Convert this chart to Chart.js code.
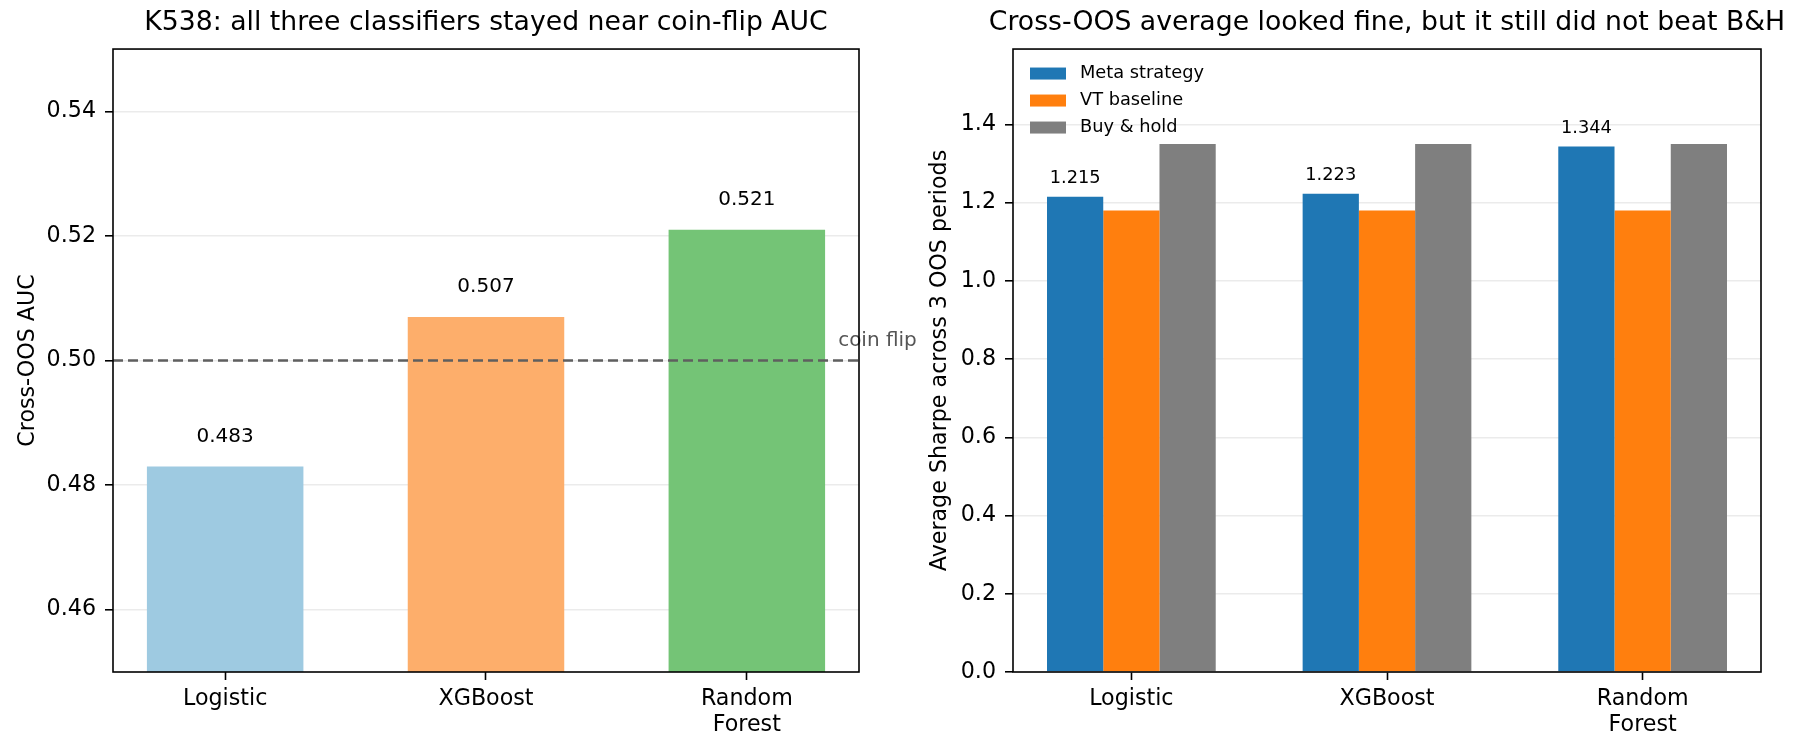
<!DOCTYPE html>
<html>
<head>
<meta charset="utf-8">
<script src="https://cdn.jsdelivr.net/npm/chart.js@4.4.1/dist/chart.umd.min.js"></script>
<style>
  html, body { margin: 0; padding: 0; background: #fff; overflow: hidden; width: 1801px; height: 754px; }
  .panel { position: absolute; top: 0; }
</style>
</head>
<body>
<div class="panel" style="left:0"><canvas id="aucChart" width="972" height="754"></canvas></div>
<div class="panel" style="left:900px"><canvas id="sharpeChart" width="974" height="754"></canvas></div>
<script>
// data
const models = ['Logistic', 'XGBoost', 'Random Forest'];
const aucValues = [0.483, 0.507, 0.521];
const aucColors = ['#9ecae1', '#fdae6b', '#74c476'];
const aucTicks = [0.46, 0.48, 0.50, 0.52, 0.54];
const coinFlip = 0.5;

const metaSharpe = [1.215, 1.223, 1.344];
const vtSharpe = [1.18, 1.18, 1.18];
const bhSharpe = [1.35, 1.35, 1.35];
const sharpeTicks = [0.0, 0.2, 0.4, 0.6, 0.8, 1.0, 1.2, 1.4];

const FONT = 'DejaVu Sans';
const pts = arr => arr.map((v, i) => ({x: i, y: v}));

// black box around the plot like matplotlib spines
const frame = {
  id: 'frame',
  afterDatasetsDraw(chart) {
    const {ctx, chartArea: a} = chart;
    ctx.save();
    ctx.strokeStyle = '#000';
    ctx.lineWidth = 1.6;
    ctx.strokeRect(a.left, a.top, a.right - a.left, a.bottom - a.top);
    ctx.restore();
  }
};

const barLabels = {
  id: 'barLabels',
  afterDatasetsDraw(chart, args, opts) {
    if (!opts.datasets) return;
    const ctx = chart.ctx;
    ctx.save();
    ctx.font = opts.size + 'px "' + FONT + '"';
    ctx.fillStyle = '#000';
    ctx.textAlign = 'center';
    ctx.textBaseline = 'middle';
    opts.datasets.forEach(i => {
      const ds = chart.data.datasets[i];
      chart.getDatasetMeta(i).data.forEach((bar, j) => {
        ctx.fillText(ds.data[j].y.toFixed(3), bar.x, bar.y - opts.offset);
      });
    });
    ctx.restore();
  }
};

function xScale(min, max) {
  return {
    type: 'linear',
    min: min,
    max: max,
    offset: false,
    afterBuildTicks: s => { s.ticks = models.map((m, i) => ({value: i})); },
    afterFit: s => { s.height = 82; },
    grid: { offset: false, drawOnChartArea: false, tickColor: '#000', tickWidth: 1.6, tickLength: 8 },
    border: { display: false },
    ticks: {
      color: '#000', padding: 6, maxRotation: 0, autoSkip: false,
      font: { family: FONT, size: 22.2, lineHeight: 1.19 },
      callback: v => models[v].split(' ')
    }
  };
}

function yScale(min, max, tickVals, digits, label, titlePad) {
  return {
    min: min,
    max: max,
    afterBuildTicks: s => { s.ticks = tickVals.map(v => ({value: v})); },
    afterFit: s => { s.width = 113; },
    grid: { color: '#ebebeb', lineWidth: 1.6, tickColor: '#000', tickWidth: 1.6, tickLength: 8 },
    border: { display: false },
    ticks: { color: '#000', padding: 9, font: { family: FONT, size: 22.2 }, callback: v => v.toFixed(digits) },
    title: { display: true, text: label, color: '#000', font: { family: FONT, size: 22.2 }, padding: { top: titlePad, bottom: 0 } }
  };
}

// empty right-hand axis so the title is centred over the plot area
const spacer = {
  position: 'right',
  afterFit: s => { s.width = 113; },
  grid: { display: false },
  border: { display: false },
  ticks: { display: false }
};

function titleOpts(text) {
  return {
    display: true, text: text, color: '#000',
    font: { family: FONT, size: 26.7, weight: 'normal', lineHeight: 1.2 },
    padding: { top: 7, bottom: 10 }
  };
}

// ---- left: AUC per classifier ----
const coinFlipLine = {
  id: 'coinFlipLine',
  afterDatasetsDraw(chart) {
    const {ctx, chartArea: a, scales: {x, y}} = chart;
    const py = y.getPixelForValue(coinFlip);
    ctx.save();
    ctx.strokeStyle = '#5f5f5f';
    ctx.lineWidth = 2.5;
    ctx.setLineDash([10, 5]);
    ctx.beginPath();
    ctx.moveTo(a.left, py);
    ctx.lineTo(a.right, py);
    ctx.stroke();
    ctx.setLineDash([]);
    ctx.fillStyle = '#555';
    ctx.font = '20px "' + FONT + '"';
    ctx.textBaseline = 'middle';
    ctx.fillText('coin flip', x.getPixelForValue(2.35), y.getPixelForValue(0.5031));
    ctx.restore();
  }
};

new Chart(document.getElementById('aucChart'), {
  type: 'bar',
  data: {
    datasets: [{ label: 'AUC', data: pts(aucValues), backgroundColor: aucColors, borderWidth: 0 }]
  },
  options: {
    responsive: false,
    animation: false,
    layout: { padding: 0 },
    datasets: { bar: { categoryPercentage: 0.6, barPercentage: 1.0 } },
    scales: {
      x: xScale(-0.43, 2.43),
      y: yScale(0.45, 0.55, aucTicks, 2, 'Cross-OOS AUC', 15),
      pad: spacer
    },
    plugins: {
      title: titleOpts('K538: all three classifiers stayed near coin-flip AUC'),
      legend: { display: false },
      tooltip: { enabled: false },
      barLabels: { datasets: [0], offset: 30, size: 20 }
    }
  },
  plugins: [coinFlipLine, frame, barLabels]
});

// ---- right: average Sharpe vs baselines ----
const insideLegend = {
  id: 'insideLegend',
  afterDraw(chart) {
    const {ctx, chartArea: a} = chart;
    ctx.save();
    ctx.font = '17.8px "' + FONT + '"';
    ctx.textBaseline = 'middle';
    chart.data.datasets.forEach((ds, i) => {
      const cy = a.top + 24.5 + i * 27;
      ctx.fillStyle = ds.backgroundColor;
      ctx.fillRect(a.left + 17, cy - 6, 36, 12);
      ctx.fillStyle = '#000';
      ctx.fillText(ds.label, a.left + 67, cy);
    });
    ctx.restore();
  }
};

new Chart(document.getElementById('sharpeChart'), {
  type: 'bar',
  data: {
    datasets: [
      { label: 'Meta strategy', data: pts(metaSharpe), backgroundColor: '#1f77b4', borderWidth: 0 },
      { label: 'VT baseline', data: pts(vtSharpe), backgroundColor: '#ff7f0e', borderWidth: 0 },
      { label: 'Buy & hold', data: pts(bhSharpe), backgroundColor: '#7f7f7f', borderWidth: 0 }
    ]
  },
  options: {
    responsive: false,
    animation: false,
    layout: { padding: 0 },
    datasets: { bar: { categoryPercentage: 0.66, barPercentage: 1.0 } },
    scales: {
      x: xScale(-0.463, 2.463),
      y: yScale(0, 1.593, sharpeTicks, 1, 'Average Sharpe across 3 OOS periods', 27),
      pad: spacer
    },
    plugins: {
      title: titleOpts('Cross-OOS average looked fine, but it still did not beat B&H'),
      legend: { display: false },
      tooltip: { enabled: false },
      barLabels: { datasets: [0], offset: 18, size: 17.8 }
    }
  },
  plugins: [frame, barLabels, insideLegend]
});
</script>
</body>
</html>
